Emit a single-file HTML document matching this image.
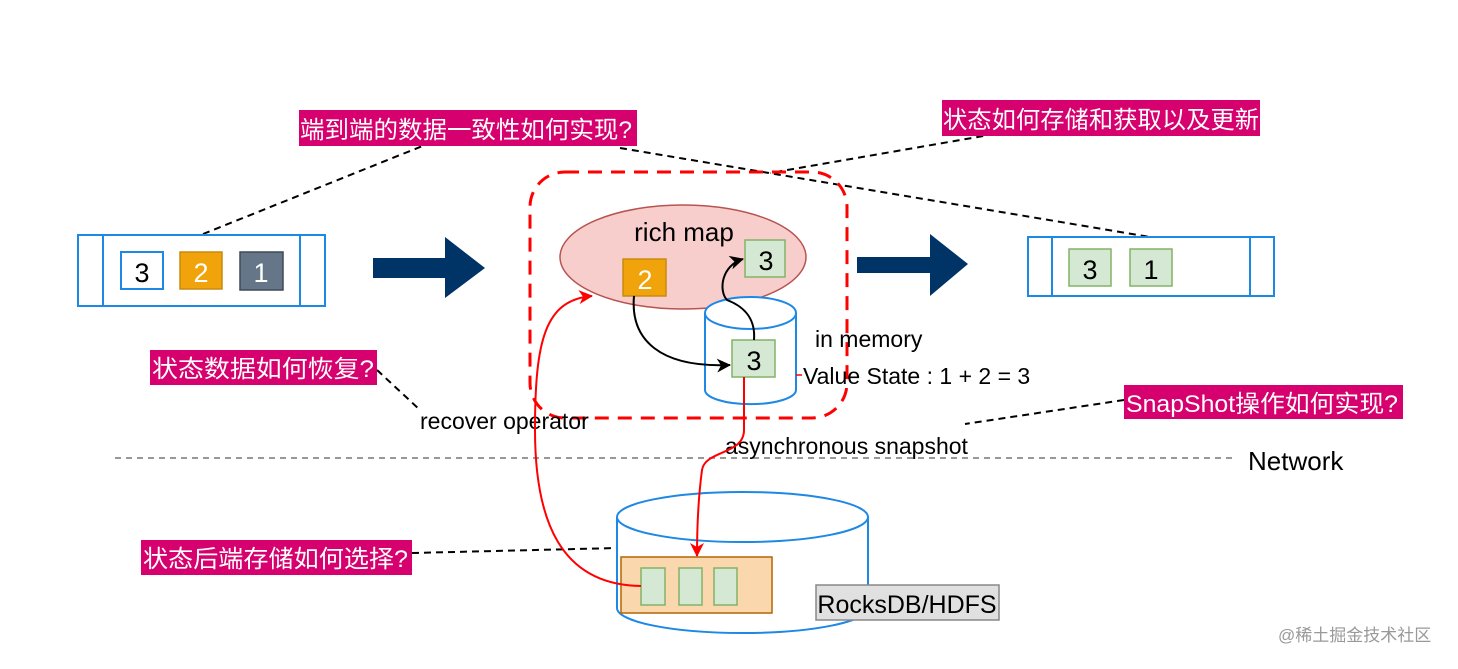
<!DOCTYPE html>
<html><head><meta charset="utf-8"><style>
body{margin:0;width:1458px;height:664px;background:#fff;overflow:hidden}
svg text{font-family:"Liberation Sans","Noto Sans CJK SC",sans-serif}
</style></head><body>
<svg width="1458" height="664" viewBox="0 0 1458 664" xmlns="http://www.w3.org/2000/svg">
<defs>
<marker id="ab" markerWidth="14" markerHeight="14" refX="13" refY="7" orient="auto" markerUnits="userSpaceOnUse"><path d="M0,0 L14,7 L0,14 L4,7 z" fill="#000"/></marker>
<marker id="ar" markerWidth="14" markerHeight="14" refX="13" refY="7" orient="auto" markerUnits="userSpaceOnUse"><path d="M0,0 L14,7 L0,14 L4,7 z" fill="#f00"/></marker>
</defs>
<g stroke="#000" stroke-width="2" stroke-dasharray="7,5" fill="none">
<line x1="203" y1="234" x2="425" y2="145"/>
<line x1="620" y1="148" x2="1150" y2="237"/>
<line x1="995" y1="134" x2="770" y2="173"/>
<line x1="1124" y1="400" x2="965" y2="424"/>
<line x1="377" y1="370" x2="420" y2="410"/>
<line x1="412" y1="553" x2="617" y2="548"/>
</g>
<line x1="115" y1="458" x2="1235" y2="458" stroke="#777" stroke-width="1.5" stroke-dasharray="6,5"/>
<g fill="none" stroke="#1e88e5" stroke-width="2">
<rect x="78" y="235" width="247" height="71" fill="#fff"/>
<line x1="103" y1="235" x2="103" y2="306"/><line x1="300" y1="235" x2="300" y2="306"/>
<rect x="1028" y="237" width="246" height="59" fill="#fff"/>
<line x1="1052" y1="237" x2="1052" y2="296"/><line x1="1250" y1="237" x2="1250" y2="296"/>
</g>
<rect x="121" y="252" width="42" height="37" fill="#fff" stroke="#1e88e5" stroke-width="2"/>
<rect x="180" y="252" width="42" height="37" fill="#f0a30a" stroke="#c88a10" stroke-width="1.5"/>
<rect x="240" y="252" width="43" height="38" fill="#647687" stroke="#3e4a56" stroke-width="1.5"/>
<g font-size="27" text-anchor="middle">
<text x="142" y="282">3</text><text x="201" y="282" fill="#fff">2</text><text x="261" y="282" fill="#fff">1</text>
</g>
<rect x="1069" y="249" width="42" height="37" fill="#d5e8d4" stroke="#82b366" stroke-width="1.5"/>
<rect x="1130" y="249" width="42" height="37" fill="#d5e8d4" stroke="#82b366" stroke-width="1.5"/>
<g font-size="27" text-anchor="middle"><text x="1090" y="279">3</text><text x="1151" y="279">1</text></g>
<path d="M373,258 L445,258 L445,237 L485,268 L445,298 L445,278 L373,278 z" fill="#003366"/>
<path d="M857,257 L930,257 L930,234 L968,264 L930,296 L930,273 L857,273 z" fill="#003366"/>
<rect x="530" y="172" width="317" height="246" rx="35" fill="none" stroke="#f00" stroke-width="3" stroke-dasharray="14,9"/>
<ellipse cx="683" cy="257" rx="123" ry="52" fill="#f8cecc" stroke="#b85450" stroke-width="1.5"/>
<text x="684" y="241" font-size="26" text-anchor="middle">rich map</text>
<rect x="623" y="259" width="43" height="37" fill="#f0a30a" stroke="#c88a10" stroke-width="1.5"/>
<text x="645" y="289" font-size="27" fill="#fff" text-anchor="middle">2</text>
<rect x="745" y="240" width="40" height="37" fill="#d5e8d4" stroke="#82b366" stroke-width="1.5"/>
<text x="766" y="270" font-size="27" text-anchor="middle">3</text>
<path d="M705,313 L705,390 A45,14 0 0 0 796,390 L796,313" fill="#fff" stroke="#1e88e5" stroke-width="2"/>
<ellipse cx="750.5" cy="313" rx="45.5" ry="16" fill="#fff" stroke="#1e88e5" stroke-width="2"/>
<rect x="732" y="340" width="43" height="37" fill="#d5e8d4" stroke="#82b366" stroke-width="1.5"/>
<text x="754" y="370" font-size="27" text-anchor="middle">3</text>
<path d="M634,296 C630,340 660,368 730,365" fill="none" stroke="#000" stroke-width="2" marker-end="url(#ab)"/>
<path d="M754,340 C756,315 740,305 727,300 C718,290 722,265 743,259" fill="none" stroke="#000" stroke-width="2" marker-end="url(#ab)"/>
<line x1="796" y1="375" x2="802" y2="375" stroke="#f00" stroke-width="1.5"/>
<text x="815" y="347" font-size="23">in memory</text>
<text x="803" y="384" font-size="23">Value State : 1 + 2 = 3</text>
<text x="420" y="429" font-size="23">recover operator</text>
<text x="725" y="454" font-size="23">asynchronous snapshot</text>
<text x="1248" y="470" font-size="26">Network</text>
<path d="M617,517 L617,608 A125.5,25 0 0 0 868,608 L868,517" fill="#fff" stroke="#1e88e5" stroke-width="2"/>
<ellipse cx="742.5" cy="517" rx="125.5" ry="25" fill="#fff" stroke="#1e88e5" stroke-width="2"/>
<rect x="621" y="557" width="151" height="56" fill="#fad7ac" stroke="#b46504" stroke-width="1.5"/>
<rect x="641" y="568" width="24" height="37" fill="#d5e8d4" stroke="#82b366" stroke-width="1.5"/>
<rect x="679" y="568" width="23" height="37" fill="#d5e8d4" stroke="#82b366" stroke-width="1.5"/>
<rect x="714" y="568" width="23" height="37" fill="#d5e8d4" stroke="#82b366" stroke-width="1.5"/>
<rect x="816" y="585" width="183" height="35" fill="#e0e0e0" stroke="#888" stroke-width="1.5"/>
<text x="907" y="613" font-size="25" text-anchor="middle">RocksDB/HDFS</text>
<path d="M641,586 C560,585 535,520 535,430 C535,340 545,300 592,296" fill="none" stroke="#f00" stroke-width="2" marker-end="url(#ar)"/>
<path d="M744,377 L744,430 C744,455 705,450 702,470 C698,500 697,530 697,556" fill="none" stroke="#f00" stroke-width="2" marker-end="url(#ar)"/>
<g fill="#d6006e">
<rect x="299" y="110" width="338" height="36"/>
<rect x="942" y="100" width="318" height="36"/>
<rect x="150" y="350" width="227" height="35"/>
<rect x="1124" y="385" width="279" height="34"/>
<rect x="141" y="540" width="271" height="35"/>
</g>
<g fill="#fff" font-size="24">
<text x="300" y="138" textLength="332" lengthAdjust="spacingAndGlyphs">端到端的数据一致性如何实现?</text>
<text x="943" y="128" textLength="316" lengthAdjust="spacingAndGlyphs">状态如何存储和获取以及更新</text>
<text x="152" y="377" textLength="222" lengthAdjust="spacingAndGlyphs">状态数据如何恢复?</text>
<text x="1126" y="412" textLength="272" lengthAdjust="spacingAndGlyphs">SnapShot操作如何实现?</text>
<text x="143" y="567" textLength="265" lengthAdjust="spacingAndGlyphs">状态后端存储如何选择?</text>
</g>
<text x="1278" y="641" font-size="17" fill="#999">@稀土掘金技术社区</text>
</svg>
</body></html>
